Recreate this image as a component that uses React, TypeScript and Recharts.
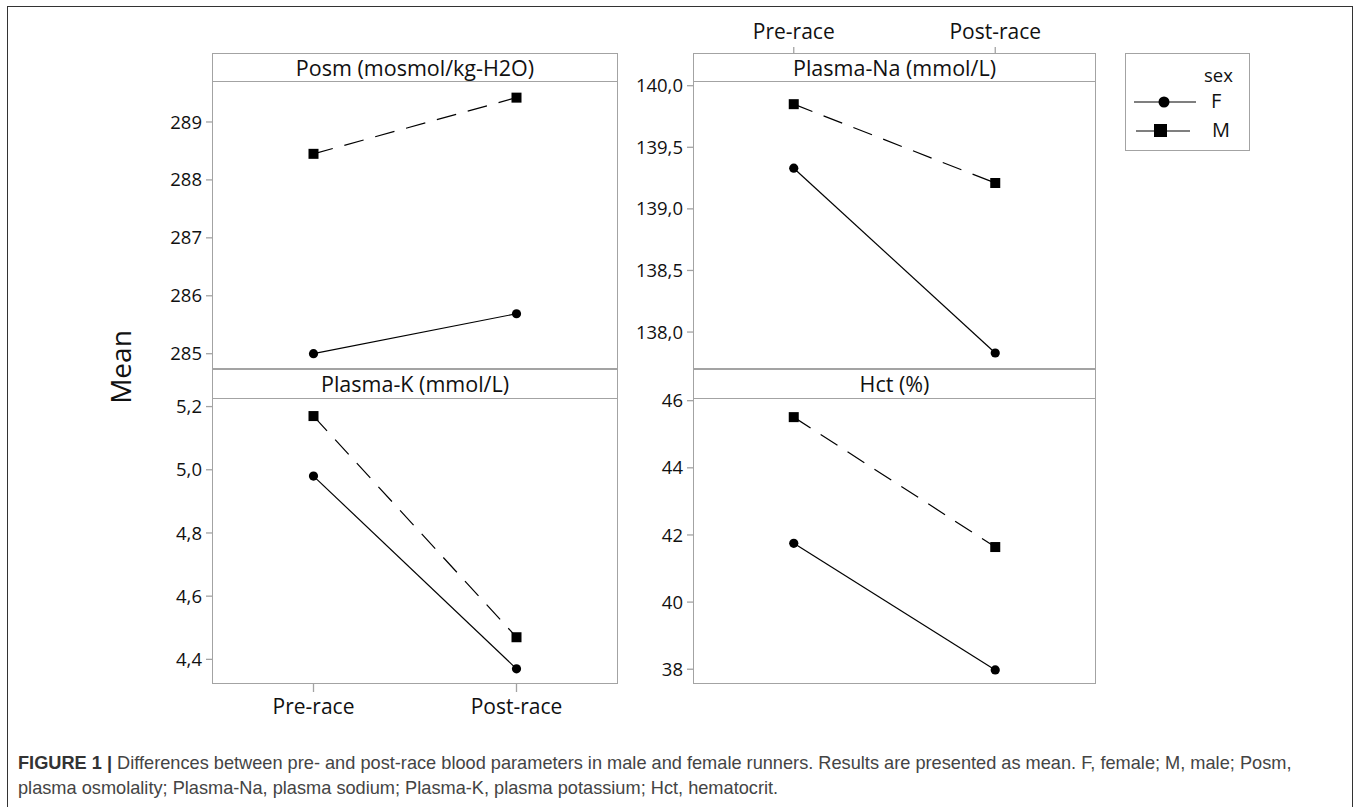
import React from "react";
import { LineChart, Line, XAxis, YAxis } from "recharts";

// ---- data ----
const timepoints = ["Pre-race", "Post-race"];
const posmFemale = [285.0, 285.69];
const posmMale = [288.45, 289.42];
const naFemale = [139.33, 137.83];
const naMale = [139.85, 139.21];
const kFemale = [4.98, 4.37];
const kMale = [5.17, 4.47];
const hctFemale = [41.75, 37.98];
const hctMale = [45.51, 41.64];

const posmTicks = [285, 286, 287, 288, 289];
const naTicks = [138, 138.5, 139, 139.5, 140];
const kTicks = [4.4, 4.6, 4.8, 5.0, 5.2];
const hctTicks = [38, 40, 42, 44, 46];

const posmDomain = [284.736, 289.69];
const naDomain = [137.7, 140.03];
const kDomain = [4.322, 5.224];
const hctDomain = [37.56, 46.05];

const panelTitles = ["Posm (mosmol/kg-H2O)", "Plasma-Na (mmol/L)", "Plasma-K (mmol/L)", "Hct (%)"];
const legendTitle = "sex";
const sexes = ["F", "M"];
const yLabel = "Mean";
const captionBold = "FIGURE 1 |";
const captionLine1 =
  " Differences between pre- and post-race blood parameters in male and female runners. Results are presented as mean. F, female; M, male; Posm,";
const captionLine2 =
  "plasma osmolality; Plasma-Na, plasma sodium; Plasma-K, plasma potassium; Hct, hematocrit.";

const build = (f: number[], m: number[]) =>
  timepoints.map((t, i) => ({ time: t, F: f[i], M: m[i] }));

// ---- style ----
const FONT = "'Open Sans', 'Noto Sans', sans-serif";
const CAPFONT = "'Liberation Sans', Arial, sans-serif";
const GRID = "#a3a3a3";
const INK = "#111";

const intFmt = (v: number) => String(Math.round(v));
const decFmt = (v: number) => v.toFixed(1).replace(".", ",");

const Circle = (p: any) =>
  p.cx == null ? <g /> : <circle cx={p.cx} cy={p.cy} r={4.6} fill="#000" />;
const Square = (p: any) =>
  p.cx == null ? <g /> : <rect x={p.cx - 5} y={p.cy - 5} width={10} height={10} fill="#000" />;

type PanelProps = {
  x0: number; x1: number; y0: number; y1: number;
  data: any[]; domain: number[]; ticks: number[];
  fmt: (v: number) => string; axis: "none" | "top" | "bottom";
};

const Y_W = 82;
const TOP_H = 74;
const BOT_H = 45;
const M_TOP = 14;
const M_BOT = 14;

function Panel({ x0, x1, y0, y1, data, domain, ticks, fmt, axis }: PanelProps) {
  const topH = axis === "top" ? TOP_H : M_TOP;
  const botH = axis === "bottom" ? BOT_H : M_BOT;
  const w = x1 - x0 + Y_W;
  const h = y1 - y0 + topH + botH;
  const padX = (x1 - x0) / 4;
  // top axis: tick marks sit above the strip header (29px tall)
  const topTick = (p: any) => (
    <g>
      <line x1={p.x} x2={p.x} y1={TOP_H - 35} y2={TOP_H - 29} stroke={GRID} strokeWidth={1.3} />
      <text x={p.x} y={TOP_H - 43} textAnchor="middle" fill={INK} fontSize={21} fontFamily={FONT}>
        {p.payload.value}
      </text>
    </g>
  );
  return (
    <div style={{ position: "absolute", left: x0 - Y_W, top: y0 - topH }}>
      <LineChart
        width={w}
        height={h}
        data={data}
        margin={{
          top: axis === "top" ? 0 : M_TOP,
          right: 0,
          bottom: axis === "bottom" ? 0 : M_BOT,
          left: 0,
        }}
      >
        <XAxis
          dataKey="time"
          type="category"
          orientation={axis === "top" ? "top" : "bottom"}
          hide={axis === "none"}
          height={axis === "top" ? TOP_H : BOT_H}
          padding={{ left: padX, right: padX }}
          interval={0}
          axisLine={false}
          tickLine={axis === "bottom" ? { stroke: GRID, strokeWidth: 1.3 } : false}
          tickSize={8}
          tickMargin={7}
          tick={axis === "top" ? topTick : { fill: INK, fontSize: 21, fontFamily: FONT }}
        />
        <YAxis
          type="number"
          width={Y_W}
          domain={domain}
          ticks={ticks}
          allowDataOverflow
          tickFormatter={fmt}
          axisLine={false}
          tickSize={6}
          tickMargin={4}
          tickLine={{ stroke: GRID, strokeWidth: 1.3 }}
          tick={{ fill: INK, fontSize: 18.5, fontFamily: FONT }}
        />
        <Line
          dataKey="F"
          stroke="#000"
          strokeWidth={1.2}
          dot={Circle}
          activeDot={false}
          isAnimationActive={false}
        />
        <Line
          dataKey="M"
          stroke="#000"
          strokeWidth={1.2}
          strokeDasharray="20 12"
          dot={Square}
          activeDot={false}
          isAnimationActive={false}
        />
      </LineChart>
    </div>
  );
}

const COLS = [
  [212, 618],
  [693, 1096],
];
const STRIP_TOP = 53;
const PLOT_TOP = [82, 399];
const PLOT_BOT = [369, 684];

function PanelFrame({ x0, x1, stripTop, plotTop, plotBot, title }: any) {
  return (
    <>
      <div
        style={{
          position: "absolute",
          left: x0,
          top: stripTop,
          width: x1 - x0,
          height: plotBot - stripTop,
          border: `1.5px solid ${GRID}`,
          boxSizing: "border-box",
        }}
      />
      <div
        style={{
          position: "absolute",
          left: x0,
          top: plotTop - 1,
          width: x1 - x0,
          height: 0,
          borderTop: `1.5px solid ${GRID}`,
        }}
      />
      <div
        style={{
          position: "absolute",
          left: x0,
          top: stripTop,
          width: x1 - x0,
          height: plotTop - stripTop,
          lineHeight: `${plotTop - stripTop}px`,
          textAlign: "center",
          fontFamily: FONT,
          fontSize: 21.5,
          color: INK,
          whiteSpace: "nowrap",
        }}
      >
        {title}
      </div>
    </>
  );
}

export default function App() {
  return (
    <div
      style={{
        position: "absolute",
        left: 0,
        top: 0,
        width: 1357,
        height: 807,
        background: "#fff",
        overflow: "hidden",
      }}
    >
      {/* outer frame */}
      <div
        style={{
          position: "absolute",
          left: 7,
          top: 6,
          width: 1346,
          height: 820,
          border: "1.5px solid #333",
          boxSizing: "border-box",
        }}
      />

      <PanelFrame x0={COLS[0][0]} x1={COLS[0][1]} stripTop={STRIP_TOP} plotTop={PLOT_TOP[0]} plotBot={PLOT_BOT[0]} title={panelTitles[0]} />
      <PanelFrame x0={COLS[1][0]} x1={COLS[1][1]} stripTop={STRIP_TOP} plotTop={PLOT_TOP[0]} plotBot={PLOT_BOT[0]} title={panelTitles[1]} />
      <PanelFrame x0={COLS[0][0]} x1={COLS[0][1]} stripTop={PLOT_BOT[0]} plotTop={PLOT_TOP[1]} plotBot={PLOT_BOT[1]} title={panelTitles[2]} />
      <PanelFrame x0={COLS[1][0]} x1={COLS[1][1]} stripTop={PLOT_BOT[0]} plotTop={PLOT_TOP[1]} plotBot={PLOT_BOT[1]} title={panelTitles[3]} />

      <Panel x0={COLS[0][0]} x1={COLS[0][1]} y0={PLOT_TOP[0]} y1={PLOT_BOT[0]} data={build(posmFemale, posmMale)} domain={posmDomain} ticks={posmTicks} fmt={intFmt} axis="none" />
      <Panel x0={COLS[1][0]} x1={COLS[1][1]} y0={PLOT_TOP[0]} y1={PLOT_BOT[0]} data={build(naFemale, naMale)} domain={naDomain} ticks={naTicks} fmt={decFmt} axis="top" />
      <Panel x0={COLS[0][0]} x1={COLS[0][1]} y0={PLOT_TOP[1]} y1={PLOT_BOT[1]} data={build(kFemale, kMale)} domain={kDomain} ticks={kTicks} fmt={decFmt} axis="bottom" />
      <Panel x0={COLS[1][0]} x1={COLS[1][1]} y0={PLOT_TOP[1]} y1={PLOT_BOT[1]} data={build(hctFemale, hctMale)} domain={hctDomain} ticks={hctTicks} fmt={intFmt} axis="none" />

      {/* y label */}
      <div
        style={{
          position: "absolute",
          left: 120,
          top: 367,
          transform: "translate(-50%, -50%) rotate(-90deg)",
          fontFamily: FONT,
          fontSize: 28,
          fontWeight: 500,
          color: INK,
          whiteSpace: "nowrap",
        }}
      >
        {yLabel}
      </div>

      {/* legend */}
      <div
        style={{
          position: "absolute",
          left: 1125,
          top: 53,
          width: 125,
          height: 98,
          border: `1.5px solid ${GRID}`,
          boxSizing: "border-box",
          fontFamily: FONT,
          color: INK,
        }}
      >
        <div style={{ position: "absolute", left: 78, top: 8, fontSize: 18.5 }}>{legendTitle}</div>
        <svg style={{ position: "absolute", left: 0, top: 0 }} width={125} height={98}>
          <line x1={8} x2={70} y1={48} y2={48} stroke="#000" strokeWidth={1.2} />
          <circle cx={38} cy={48} r={5.5} fill="#000" />
          <line x1={10} x2={64} y1={77} y2={77} stroke="#000" strokeWidth={1.2} />
          <rect x={28} y={70} width={13} height={13} fill="#000" />
        </svg>
        <div style={{ position: "absolute", left: 85, top: 33, fontSize: 20 }}>{sexes[0]}</div>
        <div style={{ position: "absolute", left: 86, top: 62, fontSize: 20 }}>{sexes[1]}</div>
      </div>

      {/* caption */}
      <div
        style={{
          position: "absolute",
          left: 18,
          top: 751,
          fontFamily: CAPFONT,
          fontSize: 18.2,
          lineHeight: "25px",
          color: "#444",
          whiteSpace: "nowrap",
        }}
      >
        <div>
          <span style={{ fontWeight: "bold", color: "#333" }}>{captionBold}</span>
          {captionLine1}
        </div>
        <div>{captionLine2}</div>
      </div>
    </div>
  );
}
